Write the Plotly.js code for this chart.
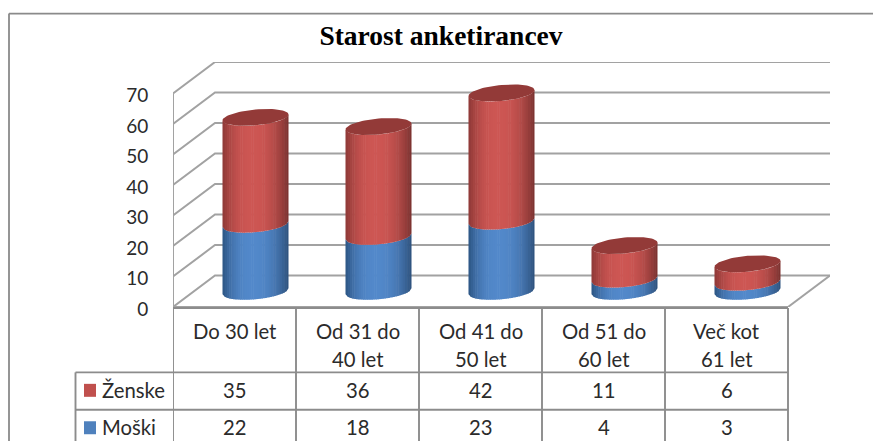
<!DOCTYPE html>
<html><head><meta charset="utf-8">
<script src="https://cdn.plot.ly/plotly-3.0.1.min.js"></script>
<style>html,body{margin:0;padding:0;background:#fff;overflow:hidden}</style>
</head><body><div id="chart" style="width:873px;height:441px"></div>
<script>
const titleText = 'Starost anketirancev';
const categories = ['Do 30 let', 'Od 31 do<br>40 let', 'Od 41 do<br>50 let', 'Od 51 do<br>60 let', 'Več kot<br>61 let'];
const moski = [22, 18, 23, 4, 3];
const zenske = [35, 36, 42, 11, 6];
const seriesNames = ['Ženske', 'Moški'];
const yTicks = [0, 10, 20, 30, 40, 50, 60, 70];

const W = 873, H = 441;
const M = {l: 173, r: 43, t: 61.5, b: 134};
const pw = W - M.l - M.r, ph = H - M.t - M.b;
const DX = 0.3415, DY = 10.3;           // oblique depth, in axis units
const xRange = [-0.5, 4.5 + DX], yRange = [0, 80.3];
const px = v => (v - M.l) / pw;
const py = v => 1 - (v - M.t) / ph;
const GRID = '#a2a2a2', TXT = '#2b2b2b', TAB = '#8c8c8c';
const FONT = 'Lato, Carlito, sans-serif';
const KEY = {f: '#c0504d', m: '#4f81bd'};
const TS = 20.3;

const traces = [];
// walls and floor
let gx = [], gy = [];
yTicks.forEach(v => { gx.push(-0.5, -0.5 + DX, 4.5 + DX, null); gy.push(v, v + DY, v + DY, null); });
gx.push(-0.5, -0.5, null, 4.5, 4.5 + DX, null, -0.5, 4.5);
gy.push(0, 70, null, 0, DY, null, 0, 0);
traces.push({x: gx, y: gy, type: 'scatter', mode: 'lines', line: {color: GRID, width: 2}, hoverinfo: 'skip', showlegend: false, cliponaxis: false});

// cylinders, as vertical shading strips
const N = 30, K = 0.27;
const a = 0.252, b = DX * K, c = DY * K;
const phi = Math.atan2(b, a), R = Math.hypot(a, b);
const lower = u => c * Math.sin(2 * Math.PI - Math.acos(u) + phi);
const mix = (p, q, t) => p.map((e, i) => Math.round(e + (q[i] - e) * t));
function shade(pal, u) {
  // u in -1..1, lightest just left of centre
  const s = (u + 0.1) / (u < -0.1 ? 0.9 : 1.1);
  const d = Math.pow(Math.abs(s), 2.4);
  return mix(pal.mid, u < -0.1 ? pal.left : pal.right, d);
}
const pals = {
  f: {mid: [205, 86, 83], left: [140, 56, 54], right: [120, 48, 46], cap: 'rgb(147,58,56)'},
  m: {mid: [82, 136, 202], left: [44, 84, 130], right: [44, 80, 122], cap: 'rgb(60,100,150)'}
};
function strips(vals, bases, pal) {
  for (let s = 0; s < N; s++) {
    const u0 = -1 + 2 * s / N, u1 = -1 + 2 * (s + 1) / N, um = (u0 + u1) / 2;
    const ue = Math.min(1, u1 + 0.5 / N);
    const xs = [], ys = [];
    vals.forEach((v, i) => {
      const cx = i + DX / 2, b0 = bases[i] + DY / 2, b1 = b0 + v;
      xs.push(cx + R * u0, cx + R * ue, cx + R * ue, cx + R * u0, null);
      ys.push(b0 + lower(u0), b0 + lower(ue), b1 + lower(ue), b1 + lower(u0), null);
    });
    const col = shade(pal, um);
    traces.push({x: xs, y: ys, type: 'scatter', mode: 'lines', fill: 'toself', line: {width: 0},
      fillcolor: 'rgb(' + col.join(',') + ')', hoverinfo: 'skip', showlegend: false});
  }
}
strips(moski, moski.map(() => 0), pals.m);
strips(zenske, moski, pals.f);
// top caps
const capx = [], capy = [];
zenske.forEach((v, i) => {
  const cx = i + DX / 2, cy = moski[i] + v + DY / 2;
  for (let t = 0; t <= 72; t++) {
    const th = t / 72 * 2 * Math.PI;
    capx.push(cx + a * Math.cos(th) + b * Math.sin(th));
    capy.push(cy + c * Math.sin(th));
  }
  capx.push(null); capy.push(null);
});
traces.push({x: capx, y: capy, type: 'scatter', mode: 'lines', fill: 'toself', line: {width: 0},
  fillcolor: pals.f.cap, hoverinfo: 'skip', showlegend: false});

// data table
const rowY = [308, 372.5, 410, H + 2];
const colX = [-0.5, 0.5, 1.5, 2.5, 3.5, 4.5];
const shapes = [], ann = [];
const ln = (x0, y0, x1, y1, xref, color, w) => ({type: 'line', xref, yref: 'paper', x0, x1, y0: py(y0), y1: py(y1), line: {color, width: w}, layer: 'above'});
colX.forEach(x => shapes.push(ln(x, rowY[0], x, rowY[3], 'x', TAB, 1.9)));
rowY.slice(0, 3).forEach((y, i) => shapes.push(ln(i ? px(75.5) : 0, y, 1 - 42 / pw, y, 'paper', TAB, 1.9)));
shapes.push(ln(px(75.5), rowY[1], px(75.5), rowY[3], 'paper', TAB, 1.9));
// chart frame
shapes.push(ln(px(9), 13, px(W + 2), 13, 'paper', '#8a8a8a', 1.8));
shapes.push(ln(px(9), 13, px(9), H + 2, 'paper', '#8a8a8a', 1.8));
// legend keys
[[KEY.f, 384], [KEY.m, 421.5]].forEach(([col, y]) => shapes.push({type: 'rect', xref: 'paper', yref: 'paper',
  x0: px(84), x1: px(96), y0: py(y), y1: py(y + 13), fillcolor: col, line: {width: 0}, layer: 'above'}));

const tx = (text, x, xref, y, size, anchor) => ({text, x, xref, y: py(y), yref: 'paper', showarrow: false,
  xanchor: anchor || 'center', yanchor: 'middle', font: {family: FONT, size: size || TS, color: TXT}});
categories.forEach((cat, i) => {
  const parts = cat.split('<br>');
  ann.push(tx(parts[0], i, 'x', 331));
  if (parts[1]) ann.push(tx(parts[1], i, 'x', 359.5));
  ann.push(tx(String(zenske[i]), i, 'x', 390.5));
  ann.push(tx(String(moski[i]), i, 'x', 427.5));
});
ann.push(tx(seriesNames[0], px(100), 'paper', 390.5, TS, 'left'));
ann.push(tx(seriesNames[1], px(100), 'paper', 427.5, TS, 'left'));

const layout = {
  width: W, height: H, margin: M, paper_bgcolor: '#fff', plot_bgcolor: 'rgba(0,0,0,0)',
  showlegend: false,
  title: {text: '<b>' + titleText + '</b>', x: 441 / W, xanchor: 'center', y: 1 - 35 / H, yanchor: 'middle',
    font: {family: 'Liberation Serif, serif', size: 27.5, color: '#000'}},
  xaxis: {range: xRange, visible: false, fixedrange: true},
  yaxis: {range: yRange, tickvals: yTicks, ticktext: yTicks.map(String), showgrid: false, zeroline: false, showline: false,
    ticks: 'outside', ticklen: 20, tickcolor: 'rgba(0,0,0,0)', ticklabelshift: 2, tickfont: {family: FONT, size: 19, color: TXT}, fixedrange: true},
  shapes, annotations: ann
};
Plotly.newPlot('chart', traces, layout, {displayModeBar: false, staticPlot: true});
</script></body></html>
